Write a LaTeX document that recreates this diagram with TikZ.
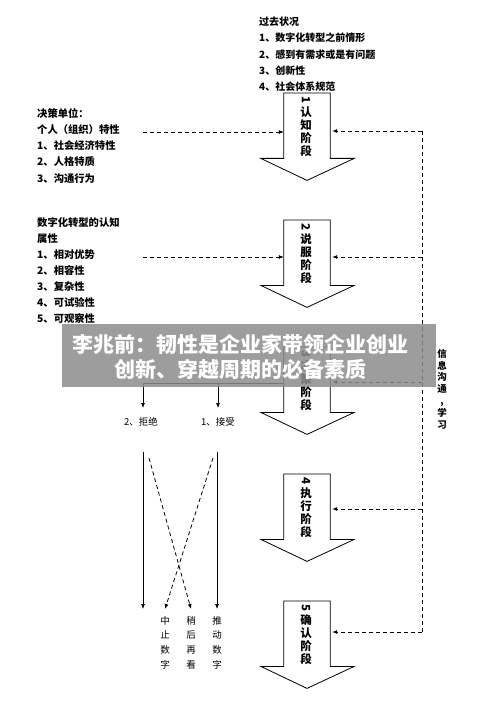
\documentclass[tikz,border=0pt]{standalone}
\usepackage{fontspec}
\setmainfont{Noto Sans CJK SC}
\usetikzlibrary{calc,arrows.meta}
\newcommand\stagearrow[3]{%
  \node[minimum width=46pt, minimum height=65pt, inner sep=0, anchor=north] (#1) at (307,#2) {};
  \draw[bigline] (#1.south west) -- (#1.north west) -- (#1.north east) -- (#1.south east) -- ++(24,0) -- ($(#1.south)+(0,22)$) -- ($(#1.south west)+(-23,0)$) -- cycle;
  \node[stagetext] (#1t) at ($(#1.north)+(-1,3)$) {#3};
}
\newcommand\rdig[1]{\rotatebox[origin=c]{-90}{#1}}
\begin{document}
\begin{tikzpicture}[x=1pt,y=-1pt,
  bigline/.style={draw=black, fill=white, line width=0.8pt},
  dasharrow/.style={dash pattern=on 4pt off 3pt, -{Latex[length=5pt,width=4pt]}, line width=0.8pt},
  dashline/.style={dash pattern=on 4pt off 3pt, line width=0.8pt},
  solidarrow/.style={-{Latex[length=5pt,width=4pt]}, line width=0.7pt},
  blocktext/.style={font=\fontsize{10}{16.2}\selectfont\bfseries, align=left, inner sep=0, anchor=north west},
  stagetext/.style={font=\fontsize{11.5}{12.8}\selectfont\bfseries, align=center, inner sep=0, anchor=north},
  labtext/.style={font=\fontsize{9.5}{14.7}\selectfont, align=center, inner sep=0},
  sidetext/.style={font=\fontsize{9.5}{11.8}\selectfont\bfseries, align=center, inner sep=0, anchor=north}]
\useasboundingbox (0,0) rectangle (500,711);

% text blocks
\node[blocktext] (past) at (259,17) {过去状况\\1、数字化转型之前情形\\2、感到有需求或是有问题\\3、创新性\\4、社会体系规范};
\node[blocktext, font=\fontsize{10.3}{16.2}\selectfont\bfseries] (unit) at (37,108) {决策单位：\\个人（组织）特性\\1、社会经济特性\\2、人格特质\\3、沟通行为};
\node[blocktext, font=\fontsize{10.3}{16}\selectfont\bfseries] (attr) at (37,217) {数字化转型的认知\\属性\\1、相对优势\\2、相容性\\3、复杂性\\4、可试验性\\5、可观察性};

% stage arrows
\stagearrow{a1}{93}{\rdig{1}\\认\\知\\阶\\段}
\stagearrow{a2}{220}{\rdig{2}\\说\\服\\阶\\段}
\stagearrow{a3}{347}{\rdig{3}\\决\\策\\阶\\段}
\stagearrow{a4}{474}{\rdig{4}\\执\\行\\阶\\段}
\stagearrow{a5}{601}{\rdig{5}\\确\\认\\阶\\段}

% right feedback line
\coordinate (r1) at (422,131);
\coordinate (r2) at (422,257);
\coordinate (r3) at (422,382);
\coordinate (r4) at (422,509);
\coordinate (r5) at (422,632);
\draw[dashline] (r1) -- (r5);
\foreach \i in {1,...,5} {\draw[dasharrow] (r\i) -- ($(a\i.east |- r\i)+(2,0)$);}
\node[sidetext] (side) at (442,349) {信\\息\\沟\\通\\,\\学\\习};

% left inputs
\coordinate (l1) at (143,132);
\coordinate (l2) at (143,257);
\draw[dasharrow] (l1) -- (a1.west |- l1);
\draw[dasharrow] (l2) -- (a2.west |- l2);

% decision branch
\coordinate (br) at (143,383);
\coordinate (ba) at (218,383);
\node[labtext] (rej) at (141,422) {2、拒绝};
\node[labtext] (acc) at (218,422) {1、接受};
\draw[line width=0.7pt] (a3.west |- br) -- (br);
\draw[solidarrow] (br) -- ($(br)+(0,25)$);
\draw[solidarrow] (ba) -- ($(ba)+(0,25)$);

% bottom outcomes
\node[labtext, anchor=north] (stop) at (165,616) {中\\止\\数\\字};
\node[labtext, anchor=north] (later) at (191,616) {稍\\后\\再\\看};
\node[labtext, anchor=north] (push) at (217,616) {推\\动\\数\\字};
\coordinate (s1) at (143,452);
\coordinate (e1) at (143,609);
\coordinate (s4) at (217,452);
\coordinate (d1) at (149,458);
\coordinate (d2) at (213,458);
\draw[solidarrow] (s1) -- (e1);
\draw[solidarrow] (s4) -- (push.north |- e1);
\draw[dasharrow] (d1) -- (later.north |- e1);
\draw[dasharrow] (d2) -- (stop.north |- e1);

% banner
\fill[black!45, opacity=0.85] (62,324) rectangle (436,387);
\node[font=\fontsize{21}{25}\selectfont\bfseries, text=white, align=center, inner sep=0] (banner) at (240,357) {李兆前：韧性是企业家带领企业创业\\创新、穿越周期的必备素质};
\end{tikzpicture}
\end{document}
